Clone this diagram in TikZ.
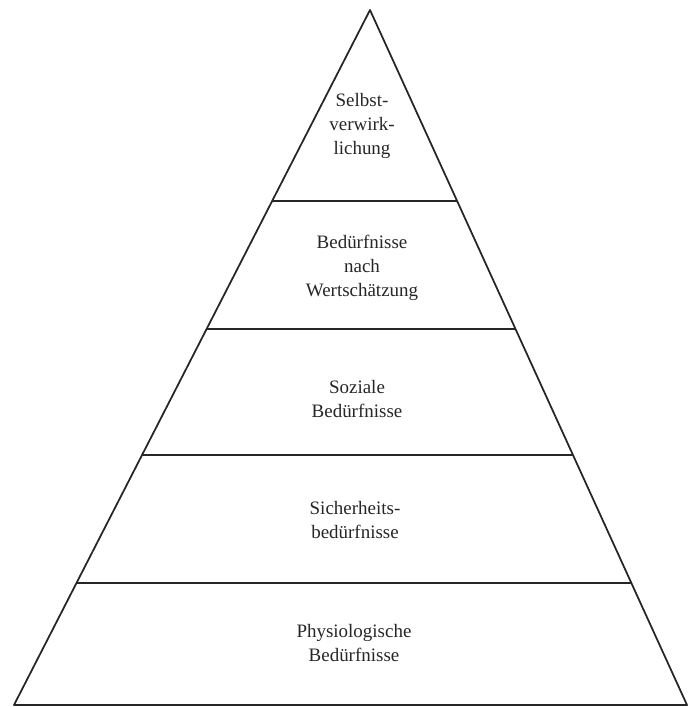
\documentclass[tikz,border=0pt]{standalone}
\usepackage{fontspec}
\setmainfont{Liberation Serif}
\usepackage{xcolor}
\usepackage{tikz}
\usetikzlibrary{calc}

\begin{document}
\begin{tikzpicture}[x=0.02cm, y=-0.02cm,
    level/.style={align=center, font=\fontsize{10.8}{13.5}\selectfont, text=black!85},
    edge/.style={line width=1pt, black!85}]
        \useasboundingbox (0,0) rectangle (688,707);

        % Pyramid outline
        \coordinate (top) at (370,10);
        \coordinate (bl) at (14,705);
        \coordinate (br) at (687,705);
        \draw[edge, line join=round] (bl) -- (top) -- (br) -- cycle;

        % Level dividers
        \draw[edge] ($(top)!0.2748!(bl)$) -- ($(top)!0.2748!(br)$);
        \draw[edge] ($(top)!0.4590!(bl)$) -- ($(top)!0.4590!(br)$);
        \draw[edge] ($(top)!0.6403!(bl)$) -- ($(top)!0.6403!(br)$);
        \draw[edge] ($(top)!0.8245!(bl)$) -- ($(top)!0.8245!(br)$);

        % Level labels
        \node[level] (selbst) at (362,126) {Selbst-\\verwirk-\\lichung};
        \node[level] (wert) at (362,268) {Bedürfnisse\\nach\\Wertschätzung};
        \node[level] (sozial) at (357,399) {Soziale\\Bedürfnisse};
        \node[level] (sicher) at (355,520) {Sicherheits-\\bedürfnisse};
        \node[level] (physio) at (354,643) {Physiologische\\Bedürfnisse};
\end{tikzpicture}
\end{document}
